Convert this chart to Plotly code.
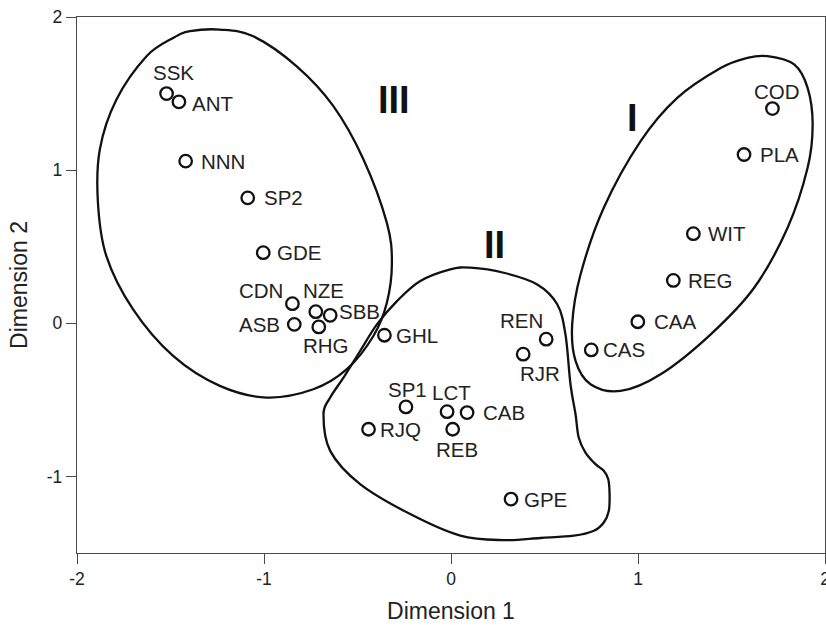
import plotly.graph_objects as go

# ---------------- data ----------------
names = ["SSK", "ANT", "NNN", "SP2", "GDE", "CDN", "NZE", "SBB", "ASB", "RHG",
         "GHL", "SP1", "RJQ", "LCT", "CAB", "REB", "GPE", "REN", "RJR", "CAS",
         "CAA", "REG", "WIT", "PLA", "COD"]
dim1 = [-1.521, -1.455, -1.419, -1.087, -1.004, -0.848, -0.723, -0.646, -0.838, -0.707,
        -0.356, -0.241, -0.441, -0.021, 0.086, 0.009, 0.321, 0.509, 0.386, 0.750,
        0.999, 1.189, 1.296, 1.567, 1.719]
dim2 = [1.500, 1.446, 1.059, 0.819, 0.461, 0.128, 0.076, 0.052, -0.007, -0.024,
        -0.078, -0.546, -0.692, -0.577, -0.583, -0.692, -1.148, -0.104, -0.202, -0.174,
        0.010, 0.280, 0.585, 1.102, 1.402]

# cluster outlines (closed curves, data units)
group3_x = [-1.396, -1.236, -1.057, -0.825, -0.629, -0.468, -0.343, -0.316, -0.343, -0.415,
            -0.557, -0.736, -0.986, -1.236, -1.486, -1.700, -1.843, -1.888, -1.878, -1.789,
            -1.628, -1.486]
group3_y = [1.907, 1.918, 1.874, 1.678, 1.418, 1.070, 0.656, 0.395, 0.134, -0.083,
            -0.300, -0.431, -0.485, -0.409, -0.213, 0.091, 0.439, 0.787, 1.135, 1.461,
            1.744, 1.863]

group2_x = [0.103, 0.282, 0.461, 0.568, 0.612, 0.639, 0.666, 0.683, 0.719, 0.773,
            0.817, 0.841, 0.848, 0.844, 0.817, 0.764, 0.657, 0.478, 0.282, 0.050,
            -0.218, -0.486, -0.646, -0.682, -0.646, -0.575, -0.486, -0.396, -0.289, -0.164,
            -0.004]
group2_y = [0.363, 0.330, 0.254, 0.124, -0.072, -0.398, -0.594, -0.746, -0.844, -0.920,
            -0.963, -1.018, -1.115, -1.224, -1.301, -1.355, -1.387, -1.402, -1.416, -1.387,
            -1.246, -1.050, -0.833, -0.594, -0.485, -0.355, -0.181, -0.007, 0.145, 0.276,
            0.352]

group1_x = [1.693, 1.835, 1.907, 1.934, 1.907, 1.800, 1.621, 1.389, 1.121, 0.907,
            0.746, 0.666, 0.648, 0.693, 0.817, 1.014, 1.210, 1.442, 1.585]
group1_y = [1.744, 1.690, 1.537, 1.298, 1.015, 0.624, 0.232, -0.072, -0.333, -0.442,
            -0.398, -0.246, -0.007, 0.320, 0.754, 1.189, 1.472, 1.667, 1.733]

group_names = ["I", "II", "III"]
group_label_x = [0.973, 0.232, -0.307]
group_label_y = [1.341, 0.511, 1.461]

x_ticks = [-2, -1, 0, 1, 2]
y_ticks = [-1, 0, 1, 2]

# ---------------- label placement (style) ----------------
# name -> (xanchor, xshift px, yshift px)
label_place = {
    "SSK": ("center", 6.6, 21.3), "ANT": ("left", 11, -2), "NNN": ("left", 13.5, 0),
    "SP2": ("left", 14, 0), "GDE": ("left", 12, 0), "CDN": ("center", -31, 12.7),
    "NZE": ("center", 7.5, 20.7), "SBB": ("left", 7, 4), "ASB": ("right", -12, 0),
    "RHG": ("center", 7.6, -19), "GHL": ("left", 10, 0), "SP1": ("center", 1.8, 17.7),
    "RJQ": ("left", 9.5, 0), "LCT": ("center", 4, 19), "CAB": ("left", 13.5, 0),
    "REB": ("center", 4.7, -20), "GPE": ("left", 11, 0), "REN": ("center", -24.7, 19),
    "RJR": ("center", 17, -19.4), "CAS": ("left", 10, 0), "CAA": ("left", 14.5, 0),
    "REG": ("left", 12.5, 0), "WIT": ("left", 12.5, 0), "PLA": ("left", 13.5, 0),
    "COD": ("center", 5, 17.3),
}

FONT = "Arial, 'Liberation Sans', sans-serif"
FRAME = "#4a4a4a"


def closed_spline_path(xs, ys):
    n = len(xs)
    p = list(zip(xs, ys))
    d = f"M {p[0][0]},{p[0][1]}"
    for i in range(n):
        p0 = p[(i - 1) % n]
        p1 = p[i]
        p2 = p[(i + 1) % n]
        p3 = p[(i + 2) % n]
        c1 = (p1[0] + (p2[0] - p0[0]) / 6, p1[1] + (p2[1] - p0[1]) / 6)
        c2 = (p2[0] - (p3[0] - p1[0]) / 6, p2[1] - (p3[1] - p1[1]) / 6)
        d += f" C {c1[0]},{c1[1]} {c2[0]},{c2[1]} {p2[0]},{p2[1]}"
    return d + " Z"


fig = go.Figure()

fig.add_trace(go.Scatter(
    x=dim1, y=dim2, mode="markers",
    marker=dict(symbol="circle-open", size=12.5, color="#111111",
                line=dict(width=2.3, color="#111111")),
    hovertext=names, hoverinfo="text", showlegend=False,
))

shapes = []
for gx, gy in [(group1_x, group1_y), (group2_x, group2_y), (group3_x, group3_y)]:
    shapes.append(dict(type="path", xref="x", yref="y",
                       path=closed_spline_path(gx, gy),
                       line=dict(color="#111111", width=2.3),
                       fillcolor="rgba(0,0,0,0)", layer="above"))

annotations = []
for n, x, y in zip(names, dim1, dim2):
    anc, dx, dy = label_place[n]
    annotations.append(dict(x=x, y=y, xref="x", yref="y", text=n, showarrow=False,
                            xanchor=anc, yanchor="middle", xshift=dx, yshift=dy,
                            font=dict(family=FONT, size=20.5, color="#222222")))
for g, x, y in zip(group_names, group_label_x, group_label_y):
    annotations.append(dict(x=x, y=y, xref="x", yref="y", text=f"<b>{g}</b>",
                            showarrow=False, xanchor="center", yanchor="middle",
                            font=dict(family=FONT, size=38, color="#111111")))

axis_common = dict(
    showgrid=False, zeroline=False, showline=True, linecolor=FRAME, linewidth=1.3,
    mirror=True, ticks="outside", ticklen=10, tickwidth=1.3, tickcolor=FRAME,
    tickfont=dict(family=FONT, size=17.5, color="#222222"),
    ticklabeloverflow="allow",
)

fig.update_layout(
    width=826, height=626,
    margin=dict(l=77, r=1, t=17, b=73, autoexpand=False),
    paper_bgcolor="white", plot_bgcolor="white",
    shapes=shapes, annotations=annotations,
    xaxis=dict(range=[-2, 2], tickvals=x_ticks, ticktext=[str(v) for v in x_ticks],
               title=dict(text="Dimension 1", font=dict(family=FONT, size=23, color="#222222"),
                          standoff=14),
               **axis_common),
    yaxis=dict(range=[-1.5, 2], tickvals=y_ticks, ticktext=[str(v) for v in y_ticks],
               title=dict(text="Dimension 2", font=dict(family=FONT, size=23, color="#222222"),
                          standoff=12),
               **axis_common),
    showlegend=False,
)

fig.write_html("out.html")
